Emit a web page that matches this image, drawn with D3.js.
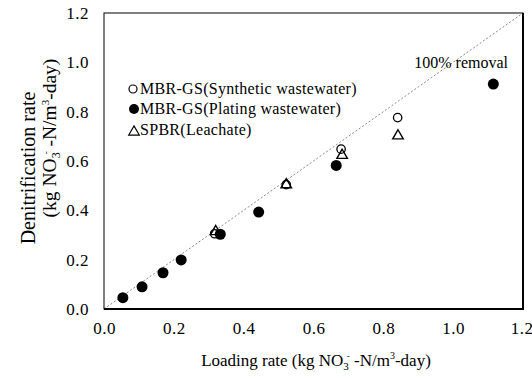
<!DOCTYPE html>
<html>
<head>
<meta charset="utf-8">
<script src="https://cdn.jsdelivr.net/npm/d3@7"></script>
<style>
  body { margin: 0; background: #fff; }
  svg text { font-family: "Liberation Serif", "Times New Roman", serif; fill: #000; }
</style>
</head>
<body>
<div id="chart"></div>
<script>
// loading rate (x) / denitrification rate (y), kg NO3--N/m3-day
const synthLoad = [0.317, 0.522, 0.679, 0.841];
const synthRate = [0.305, 0.504, 0.648, 0.776];
const platingLoad = [0.054, 0.109, 0.169, 0.221, 0.333, 0.443, 0.665, 1.115];
const platingRate = [0.046, 0.090, 0.147, 0.199, 0.303, 0.393, 0.582, 0.912];
const leachLoad = [0.320, 0.522, 0.682, 0.842];
const leachRate = [0.318, 0.508, 0.627, 0.706];
const ticks = [0, 0.2, 0.4, 0.6, 0.8, 1.0, 1.2];
const legendLabels = ["MBR-GS(Synthetic wastewater)", "MBR-GS(Plating wastewater)", "SPBR(Leachate)"];

const width = 532, height = 380;
const margin = {left: 104, right: 9, top: 13, bottom: 71};

const svg = d3.select('#chart').append('svg')
  .attr('width', width)
  .attr('height', height);

const x = d3.scaleLinear().domain([0, 1.2]).range([margin.left, width - margin.right]);
const y = d3.scaleLinear().domain([0, 1.2]).range([height - margin.bottom, margin.top]);

// axes (labels only, no tick marks)
svg.append('g')
  .attr('transform', `translate(0,${y(0)})`)
  .call(d3.axisBottom(x).tickValues(ticks).tickFormat(d3.format('.1f')).tickSize(0).tickPadding(13))
  .call(g => g.select('.domain').remove())
  .call(g => g.attr('font-family', null))
  .selectAll('text').attr('font-size', 17).attr('letter-spacing', 0.5)
  // last label sits against the right edge
  .filter(d => d === 1.2).attr('text-anchor', 'end').attr('dx', 10);

svg.append('g')
  .attr('transform', `translate(${x(0)},0)`)
  .call(d3.axisLeft(y).tickValues(ticks).tickFormat(d3.format('.1f')).tickSize(0).tickPadding(15))
  .call(g => g.select('.domain').remove())
  .call(g => g.attr('font-family', null))
  .selectAll('text').attr('font-size', 17).attr('letter-spacing', 0.5);

// 100% removal line
svg.append('line')
  .attr('x1', x(0)).attr('y1', y(0))
  .attr('x2', x(1.2)).attr('y2', y(1.2))
  .attr('stroke', '#8a8a8a')
  .attr('stroke-width', 1)
  .attr('stroke-dasharray', '2,2');

// frame
svg.append('rect')
  .attr('x', x(0)).attr('y', y(1.2))
  .attr('width', x(1.2) - x(0)).attr('height', y(0) - y(1.2))
  .attr('fill', 'none').attr('stroke', '#000').attr('stroke-width', 1);
svg.append('path')
  .attr('d', `M${x(0)},${y(0)}H${x(1.2)}V${y(1.2)}`)
  .attr('fill', 'none').attr('stroke', '#000').attr('stroke-width', 2);

const tri = d3.symbol().type(d3.symbolTriangle).size(48);

// leachate triangles
svg.append('g').selectAll('path')
  .data(d3.zip(leachLoad, leachRate)).enter()
  .append('path')
  .attr('d', tri)
  .attr('transform', d => `translate(${x(d[0])},${y(d[1]) + 1})`)
  .attr('fill', 'none').attr('stroke', '#000').attr('stroke-width', 1.4);

// synthetic open circles
svg.append('g').selectAll('circle')
  .data(d3.zip(synthLoad, synthRate)).enter()
  .append('circle')
  .attr('cx', d => x(d[0])).attr('cy', d => y(d[1]))
  .attr('r', 4.2)
  .attr('fill', 'none').attr('stroke', '#000').attr('stroke-width', 1.3);

// plating filled circles
svg.append('g').selectAll('circle')
  .data(d3.zip(platingLoad, platingRate)).enter()
  .append('circle')
  .attr('cx', d => x(d[0])).attr('cy', d => y(d[1]))
  .attr('r', 5.5)
  .attr('fill', '#000');

svg.append('text')
  .attr('x', 508).attr('y', 68)
  .attr('text-anchor', 'end')
  .attr('font-size', 16)
  .text('100% removal');

// legend
const lg = svg.append('g');
const rowY = [89, 109, 130];
lg.append('circle').attr('cx', 133).attr('cy', rowY[0]).attr('r', 4)
  .attr('fill', 'none').attr('stroke', '#000').attr('stroke-width', 1.2);
lg.append('circle').attr('cx', 134).attr('cy', rowY[1]).attr('r', 5)
  .attr('fill', '#000');
lg.append('path').attr('d', tri).attr('transform', `translate(134,${rowY[2] + 2})`)
  .attr('fill', 'none').attr('stroke', '#000').attr('stroke-width', 1.2);
lg.selectAll('text')
  .data(legendLabels).enter()
  .append('text')
  .attr('x', 140)
  .attr('y', (d, i) => rowY[i] + 5)
  .attr('font-size', 16)
  .attr('letter-spacing', 0.3)
  .text(d => d);

// unit label helper: (kg NO3- -N/m3-day)
function unitText(t, prefix, big) {
  t.append('tspan').text(prefix + 'kg NO');
  t.append('tspan').attr('font-size', big ? 12 : 11).attr('dy', 4).text('3');
  t.append('tspan').attr('font-size', 9).attr('dx', -2).attr('dy', -11).text('-');
  t.append('tspan').attr('dy', 7).text(' -N/m');
  t.append('tspan').attr('font-size', big ? 11 : 10).attr('dy', -7).text('3');
  t.append('tspan').attr('dy', 7).text('-day)');
}

const xt = svg.append('text')
  .attr('x', 316).attr('y', 366)
  .attr('text-anchor', 'middle')
  .attr('font-size', 17);
unitText(xt, 'Loading rate (', false);

svg.append('text')
  .attr('transform', 'translate(35,168) rotate(-90)')
  .attr('text-anchor', 'middle')
  .attr('font-size', 20)
  .text('Denitrification rate');

const yt = svg.append('text')
  .attr('transform', 'translate(56,138) rotate(-90)')
  .attr('text-anchor', 'middle')
  .attr('font-size', 19.5);
unitText(yt, '(', true);
</script>
</body>
</html>
